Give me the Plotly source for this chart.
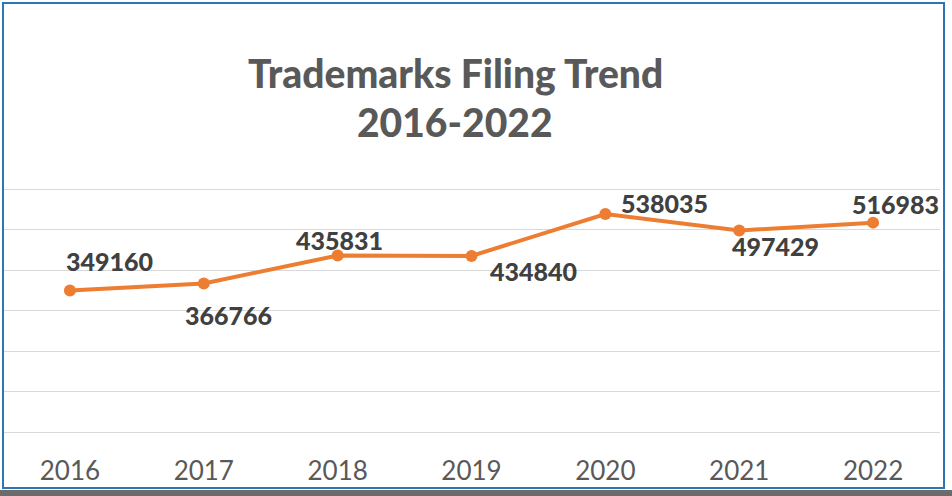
import plotly.graph_objects as go

years = ["2016", "2017", "2018", "2019", "2020", "2021", "2022"]
filings = [349160, 366766, 435831, 434840, 538035, 497429, 516983]
label_dx = [40, 25, 2, 62, 59, 36, 22]
label_dy = [30, -32, 16, -15, 11, -15, 19]

W, H = 952, 496
PL, PR, PT, PB = 3, 940, 188, 432
YMAX = 602500

def px_x(px):
    return (px - PL) / (PR - PL)

def px_y(py):
    return (PB - py) / (PB - PT)

ORANGE = "#ED7D31"
FONT = "Lato"

fig = go.Figure()
fig.add_trace(go.Scatter(
    x=years, y=filings, mode="lines+markers",
    line=dict(color=ORANGE, width=4),
    marker=dict(color=ORANGE, size=12),
    cliponaxis=False, hoverinfo="skip", showlegend=False,
))

annotations = []
for i, (v, dx, dy) in enumerate(zip(filings, label_dx, label_dy)):
    annotations.append(dict(
        x=i, y=v, xref="x", yref="y", text=str(v), showarrow=False,
        xshift=dx, yshift=dy, xanchor="center", yanchor="middle",
        font=dict(family=FONT, size=25, color="#404040", weight=900),
    ))

for txt, py in [("Trademarks Filing Trend", 73), ("2016-2022", 122)]:
    annotations.append(dict(x=px_x(455), y=px_y(py), xref="paper", yref="paper",
                            text=txt, showarrow=False,
                            xanchor="center", yanchor="middle",
                            font=dict(family=FONT, size=39, color="#595959", weight=900)))

shapes = [
    dict(type="rect", xref="paper", yref="paper",
         x0=px_x(-5), x1=px_x(960), y0=px_y(490), y1=px_y(500),
         fillcolor="#6b6b6b", line=dict(width=0), layer="below"),
    dict(type="rect", xref="paper", yref="paper",
         x0=px_x(3), x1=px_x(944), y0=px_y(488), y1=px_y(3),
         line=dict(color="#2E75B6", width=2), fillcolor="rgba(0,0,0,0)"),
]

fig.update_layout(
    width=W, height=H,
    margin=dict(l=PL, r=W - PR, t=PT, b=H - PB, autoexpand=False),
    paper_bgcolor="white", plot_bgcolor="white",
    annotations=annotations, shapes=shapes,
    font=dict(family=FONT),
    xaxis=dict(type="category", range=[-0.5, 6.5], showgrid=False,
               showline=True, linecolor="#d9d9d9", linewidth=1,
               ticks="", ticklabelstandoff=16, automargin=False,
               tickfont=dict(family=FONT, size=26, color="#595959"),
               fixedrange=True),
    yaxis=dict(range=[0, YMAX], tickvals=[0, 100000, 200000, 300000, 400000, 500000, 600000],
               showticklabels=False, automargin=False,
               showgrid=True, gridcolor="#d9d9d9", gridwidth=1,
               zeroline=False, ticks="", fixedrange=True),
)

fig.write_html("out.html", config={"displayModeBar": False},
               post_script="document.body.style.margin='0';document.body.style.overflow='hidden';")
